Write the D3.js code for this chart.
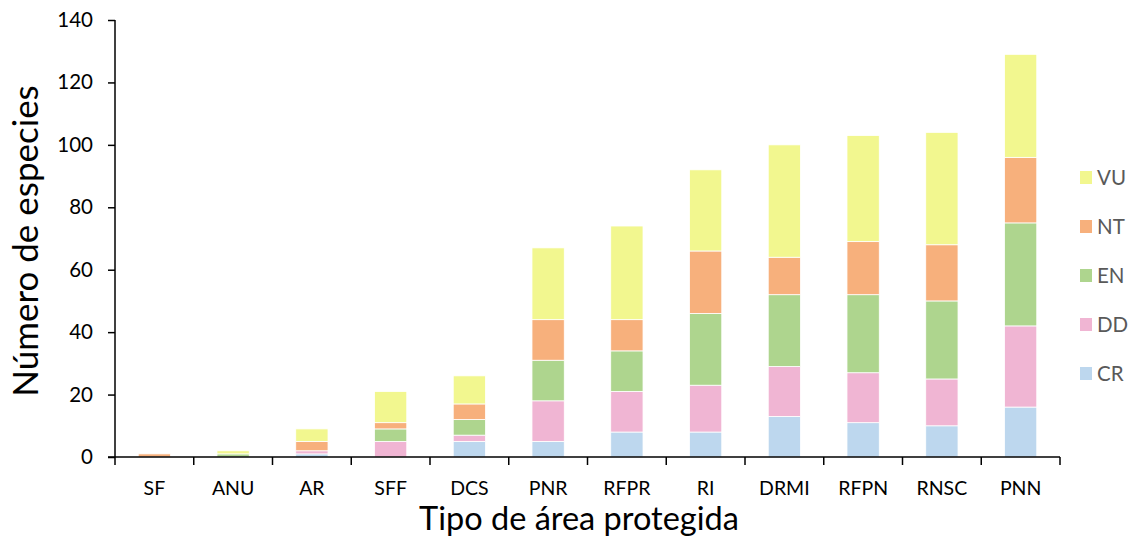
<!DOCTYPE html>
<html><head><meta charset="utf-8">
<script src="https://cdn.jsdelivr.net/npm/d3@7"></script>
<style>body{margin:0;background:#fff}</style>
</head><body><svg id="c" width="1128" height="538"></svg>
<script>
const categories = ["SF","ANU","AR","SFF","DCS","PNR","RFPR","RI","DRMI","RFPN","RNSC","PNN"];
const CR = [0,0,1,0,5,5,8,8,13,11,10,16];
const DD = [0,0,1,5,2,13,13,15,16,16,15,26];
const EN = [0,1,0,4,5,13,13,23,23,25,25,33];
const NT = [1,0,3,2,5,13,10,20,12,17,18,21];
const VU = [0,1,4,10,9,23,30,26,36,34,36,33];
const seriesNames = ["CR","DD","EN","NT","VU"];
const yTicks = [0,20,40,60,80,100,120,140];
const colors = {CR:"#BDD7EE",DD:"#F0B5D3",EN:"#AED58E",NT:"#F7B07C",VU:"#F2F78F"};

const seriesVals = {CR,DD,EN,NT,VU};
const rows = categories.map((c,i)=>{const r={cat:c};seriesNames.forEach(s=>r[s]=seriesVals[s][i]);return r;});
const stack = d3.stack().keys(seriesNames)(rows);

const svg = d3.select("#c");
const m = {l:115,r:1060,t:20,b:457};
const x = d3.scaleBand().domain(categories).range([m.l,m.r]).paddingInner(0.59).paddingOuter(0.295);
const xb = d3.scaleBand().domain(categories).range([m.l,m.r]);
const y = d3.scaleLinear().domain([0,140]).range([m.b,m.t]);
const font = "Lato, 'Liberation Sans', sans-serif";

svg.append("g").selectAll("g").data(stack).join("g")
  .attr("fill",d=>colors[d.key])
  .selectAll("rect").data(d=>d).join("rect")
  .attr("x",d=>x(d.data.cat)).attr("width",x.bandwidth())
  .attr("y",d=>y(d[1])).attr("height",d=>Math.max(0,y(d[0])-y(d[1])))
  .attr("stroke","#fff").attr("stroke-width",0.8);

// y axis
const ya = svg.append("g").attr("transform",`translate(${m.l},0)`)
  .call(d3.axisLeft(y).tickValues(yTicks).tickSize(7).tickPadding(15));
ya.select(".domain").attr("stroke","#000").attr("stroke-width",1.5).attr("d",`M0,${m.t}V${m.b}`);
ya.selectAll(".tick line").attr("stroke","#000").attr("stroke-width",1.5);
ya.selectAll("text").attr("font-family",font).attr("font-size",20.5).attr("fill","#000");

// x axis
const xa = svg.append("g").attr("transform",`translate(0,${m.b})`);
xa.append("line").attr("x1",m.l-7).attr("x2",m.r).attr("stroke","#000").attr("stroke-width",1.5);
const bounds = categories.map(c=>xb(c)).concat([m.r]);
xa.selectAll("line.t").data(bounds).join("line").attr("class","t")
  .attr("x1",d=>d).attr("x2",d=>d).attr("y1",0).attr("y2",8).attr("stroke","#000").attr("stroke-width",1.5);
xa.selectAll("text").data(categories).join("text")
  .attr("x",d=>xb(d)+xb.bandwidth()/2).attr("y",38)
  .attr("text-anchor","middle").attr("font-family",font).attr("font-size",19.5).attr("fill","#000").text(d=>d);

// titles
svg.append("text").attr("transform","translate(38,241) rotate(-90)").attr("text-anchor","middle")
  .attr("font-family",font).attr("font-size",35).attr("fill","#000").text("Número de especies");
svg.append("text").attr("x",579).attr("y",530).attr("text-anchor","middle")
  .attr("font-family",font).attr("font-size",32.5).attr("fill","#000").text("Tipo de área protegida");

// legend
const leg = ["VU","NT","EN","DD","CR"];
const lg = svg.append("g");
leg.forEach((s,i)=>{
  const cy = 178 + i*49;
  lg.append("rect").attr("x",1080).attr("y",cy-7).attr("width",12).attr("height",13).attr("fill",colors[s]);
  lg.append("text").attr("x",1097).attr("y",cy+7).attr("font-family",font).attr("font-size",20.5).attr("fill","#595959").text(s);
});
</script></body></html>
